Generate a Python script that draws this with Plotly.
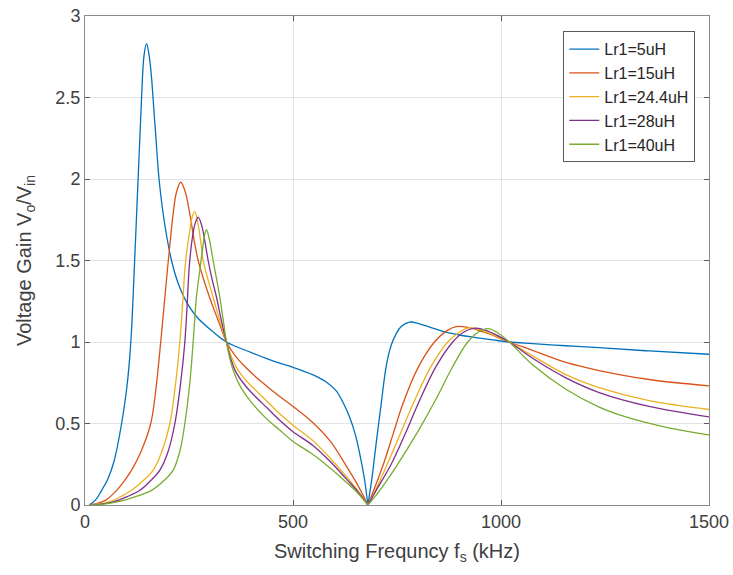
import plotly.graph_objects as go

# ---- data (frequency kHz, voltage gain) ----
f_5uH = [10, 25, 40, 55, 70, 88, 100, 106, 112, 118, 124, 130, 136, 142, 148, 154, 160, 164, 170, 178,
         190, 208, 224, 245, 270, 304, 340, 400, 440, 468, 500, 547, 580, 604, 620, 636, 650, 660, 672, 680,
         690, 700, 712, 724, 736, 748, 760, 780, 800, 830, 860, 900, 940, 980, 1020, 1076, 1156, 1236, 1356, 1500]
g_5uH = [0, 0.03, 0.09, 0.16, 0.27, 0.5, 0.71, 0.86, 1.08, 1.42, 1.78, 2.14, 2.5, 2.76, 2.83, 2.76, 2.62, 2.48, 2.27, 2.0,
         1.75, 1.5, 1.36, 1.24, 1.15, 1.07, 1.0, 0.935, 0.895, 0.87, 0.845, 0.80, 0.755, 0.70, 0.63, 0.54, 0.43, 0.32, 0.155, 0,
         0.17, 0.38, 0.62, 0.85, 0.98, 1.05, 1.095, 1.122, 1.115, 1.09, 1.065, 1.043, 1.027, 1.013, 1.0, 0.99, 0.977, 0.965, 0.945, 0.925]

f_15uH = [10, 30, 50, 76, 95, 112, 135, 158, 170, 182, 190, 198, 205, 212, 220, 230, 240, 252, 262, 272,
          292, 310, 325, 340, 360, 388, 420, 468, 500, 548, 590, 628, 655, 680, 700, 720, 740, 764, 800, 840,
          870, 892, 920, 960, 1020, 1076, 1156, 1236, 1356, 1500]
g_15uH = [0, 0.01, 0.03, 0.09, 0.15, 0.214, 0.33, 0.5, 0.7, 1.0, 1.22, 1.44, 1.62, 1.79, 1.92, 1.98, 1.93, 1.786, 1.63, 1.5,
          1.33, 1.2, 1.1, 1.0, 0.92, 0.84, 0.765, 0.665, 0.605, 0.505, 0.39, 0.24, 0.125, 0, 0.13, 0.27, 0.43, 0.62, 0.84, 1.0,
          1.07, 1.095, 1.09, 1.06, 1.0, 0.949, 0.875, 0.825, 0.77, 0.731]

f_24uH = [10, 30, 60, 85, 112, 140, 164, 185, 204, 218, 228, 235, 242, 252, 258, 264, 272, 278, 284, 296,
          308, 324, 340, 352, 365, 380, 400, 440, 468, 500, 548, 590, 628, 655, 680, 700, 730, 760, 792, 832,
          872, 900, 924, 950, 985, 1020, 1076, 1156, 1236, 1356, 1500]
g_24uH = [0, 0.005, 0.02, 0.05, 0.09, 0.15, 0.214, 0.33, 0.5, 0.75, 1.0, 1.25, 1.5, 1.684, 1.77, 1.80, 1.72, 1.62, 1.5, 1.38,
          1.276, 1.13, 1.0, 0.91, 0.84, 0.785, 0.73, 0.63, 0.56, 0.49, 0.395, 0.285, 0.175, 0.09, 0, 0.10, 0.27, 0.45, 0.64, 0.85,
          1.0, 1.06, 1.088, 1.075, 1.04, 1.0, 0.915, 0.80, 0.72, 0.64, 0.586]

f_28uH = [10, 35, 70, 100, 132, 158, 180, 200, 216, 230, 240, 246, 250, 256, 264, 272, 280, 288, 296, 306,
          316, 328, 340, 350, 362, 380, 400, 440, 468, 500, 548, 590, 628, 655, 680, 700, 736, 772, 804, 844,
          884, 910, 940, 965, 995, 1020, 1076, 1156, 1236, 1356, 1500]
g_28uH = [0, 0.004, 0.02, 0.05, 0.09, 0.15, 0.214, 0.33, 0.5, 0.75, 1.0, 1.25, 1.44, 1.6, 1.72, 1.766, 1.72, 1.62, 1.5, 1.38,
          1.276, 1.13, 1.0, 0.90, 0.82, 0.75, 0.69, 0.59, 0.52, 0.45, 0.365, 0.265, 0.16, 0.085, 0, 0.09, 0.25, 0.45, 0.64, 0.85,
          1.0, 1.06, 1.085, 1.07, 1.035, 1.0, 0.90, 0.78, 0.69, 0.605, 0.541]

f_40uH = [10, 40, 80, 120, 160, 190, 212, 228, 240, 252, 260, 268, 276, 282, 287, 292, 298, 304, 308, 316,
          324, 332, 340, 350, 360, 375, 400, 436, 468, 500, 548, 590, 628, 655, 680, 700, 720, 748, 800, 844,
          884, 920, 945, 968, 990, 1020, 1076, 1156, 1236, 1300, 1400, 1500]
g_40uH = [0, 0.004, 0.02, 0.05, 0.09, 0.15, 0.214, 0.33, 0.5, 0.75, 1.0, 1.28, 1.44, 1.56, 1.65, 1.69, 1.64, 1.56, 1.5, 1.39,
          1.276, 1.14, 1.0, 0.88, 0.80, 0.72, 0.63, 0.53, 0.46, 0.39, 0.31, 0.225, 0.14, 0.075, 0, 0.06, 0.13, 0.235, 0.45, 0.65,
          0.85, 1.0, 1.06, 1.082, 1.06, 1.0, 0.86, 0.71, 0.60, 0.54, 0.475, 0.43]

series_names = ["Lr1=5uH", "Lr1=15uH", "Lr1=24.4uH", "Lr1=28uH", "Lr1=40uH"]
series_f = [f_5uH, f_15uH, f_24uH, f_28uH, f_40uH]
series_g = [g_5uH, g_15uH, g_24uH, g_28uH, g_40uH]
colors = ["#0072BD", "#D95319", "#EDB120", "#7E2F8E", "#77AC30"]

x_ticks = [0, 500, 1000, 1500]
y_ticks = [0, 0.5, 1, 1.5, 2, 2.5, 3]
zero_freq = 680

FONT = "Liberation Sans, Arial, Helvetica, sans-serif"
fig = go.Figure()
for name, f, g, c in zip(series_names, series_f, series_g, colors):
    k = f.index(zero_freq)
    line = dict(color=c, width=1.3, shape="spline", smoothing=1.0)
    fig.add_trace(go.Scatter(x=f[:k + 1], y=g[:k + 1], mode="lines", line=line,
                             name=name, legendgroup=name))
    fig.add_trace(go.Scatter(x=f[k:], y=g[k:], mode="lines", line=line,
                             name=name, legendgroup=name, showlegend=False))

axis_common = dict(showgrid=True, gridcolor="#e3e3e3", gridwidth=1, zeroline=False,
                   showline=True, linecolor="#8a8a8a", linewidth=1, mirror="ticks",
                   ticks="inside", ticklen=5, tickcolor="#5a5a5a", automargin=False,
                   tickfont=dict(family=FONT, size=18, color="#404040"))

fig.update_layout(
    width=733, height=575,
    margin=dict(l=85, r=24, t=16, b=70),
    paper_bgcolor="white", plot_bgcolor="white",
    font=dict(family=FONT, color="#404040"),
    xaxis=dict(range=[0, 1500], tickvals=x_ticks,
               title=dict(text="Switching Frequncy f<sub>s</sub> (kHz)",
                          font=dict(family=FONT, size=20, color="#404040"), standoff=13),
               **axis_common),
    yaxis=dict(range=[0, 3], tickvals=y_ticks,
               title=dict(text="Voltage Gain V<sub>o</sub>/V<sub>in</sub>",
                          font=dict(family=FONT, size=20, color="#404040"), standoff=18),
               **axis_common),
    legend=dict(x=0.978, y=0.969, xanchor="right", yanchor="top",
                bgcolor="white", bordercolor="#5a5a5a", borderwidth=1,
                font=dict(family=FONT, size=16, color="#262626"),
                tracegroupgap=0),
    showlegend=True,
)

fig.write_html("out.html")
